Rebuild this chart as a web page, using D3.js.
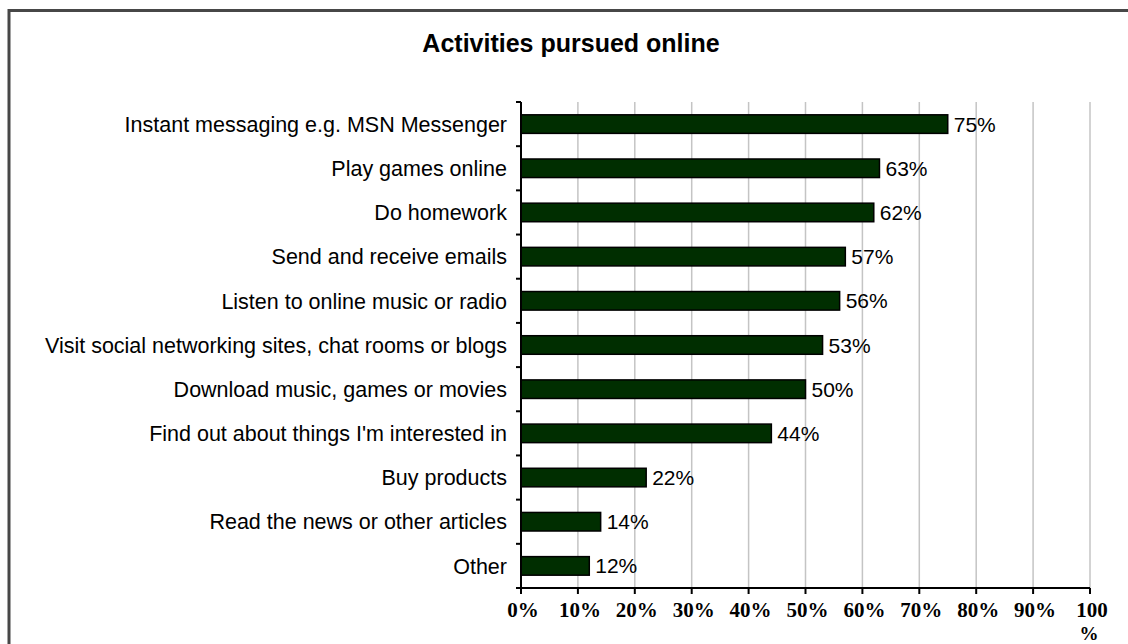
<!DOCTYPE html>
<html><head><meta charset="utf-8">
<script src="https://cdn.jsdelivr.net/npm/d3@7"></script>
<style>body{margin:0;background:#fff}</style>
</head><body>
<script>
const categories = ["Instant messaging e.g. MSN Messenger","Play games online","Do homework","Send and receive emails","Listen to online music or radio","Visit social networking sites, chat rooms or blogs","Download music, games or movies","Find out about things I'm interested in","Buy products","Read the news or other articles","Other"];
const values = [75,63,62,57,56,53,50,44,22,14,12];
const xTicks = [0,10,20,30,40,50,60,70,80,90,100];
const title = "Activities pursued online";

const W=1128,H=644;
const svg=d3.select("body").append("svg").attr("width",W).attr("height",H);
svg.append("rect").attr("x",9).attr("y",10.5).attr("width",1300).attr("height",900).attr("fill","#fff").attr("stroke","#474747").attr("stroke-width",3);

const m={left:521,right:1090,top:102,bottom:588};
const x=d3.scaleLinear().domain([0,100]).range([m.left,m.right]);
const y=d3.scaleBand().domain(categories).range([m.top,m.bottom]).paddingInner(0.58).paddingOuter(0.29);

svg.append("text").attr("x",571).attr("y",52).attr("text-anchor","middle").attr("font-family","Liberation Sans, Arial").attr("font-weight","bold").attr("font-size",25).text(title);

// gridlines
svg.append("g").selectAll("line").data(xTicks.slice(1)).join("line")
 .attr("x1",d=>x(d)).attr("x2",d=>x(d)).attr("y1",m.top).attr("y2",m.bottom).attr("stroke","#c4c4c4").attr("stroke-width",1.5);

svg.append("g").selectAll("rect").data(values).join("rect")
 .attr("x",x(0)).attr("y",(d,i)=>y(categories[i])).attr("width",d=>x(d)-x(0)).attr("height",y.bandwidth())
 .attr("fill","#002e00").attr("stroke","#000").attr("stroke-width",1.5);

svg.append("g").selectAll("text").data(values).join("text")
 .attr("x",d=>x(d)+6).attr("y",(d,i)=>y(categories[i])+y.bandwidth()/2).attr("dy","0.36em")
 .attr("font-family","Liberation Sans, Arial").attr("font-size",21).text(d=>d+"%");

svg.append("g").selectAll("text").data(categories).join("text")
 .attr("x",m.left-14).attr("y",d=>y(d)+y.bandwidth()/2).attr("dy","0.36em").attr("text-anchor","end")
 .attr("font-family","Liberation Sans, Arial").attr("font-size",21.5).text(d=>d);

// axes
const step=(m.bottom-m.top)/categories.length;
const ax=svg.append("g").attr("stroke","#000").attr("stroke-width",2);
ax.append("line").attr("x1",m.left).attr("x2",m.left).attr("y1",m.top).attr("y2",m.bottom);
ax.append("line").attr("x1",m.left).attr("x2",m.right).attr("y1",m.bottom).attr("y2",m.bottom);
ax.selectAll(".yt").data(d3.range(categories.length+1)).join("line").attr("class","yt")
 .attr("x1",m.left-5).attr("x2",m.left).attr("y1",i=>m.top+i*step).attr("y2",i=>m.top+i*step);
ax.selectAll(".xt").data(xTicks).join("line").attr("class","xt")
 .attr("x1",d=>x(d)).attr("x2",d=>x(d)).attr("y1",m.bottom).attr("y2",m.bottom+6);

svg.append("g").selectAll("text").data(xTicks).join("text")
 .attr("x",d=>x(d)+2).attr("y",617).attr("text-anchor","middle")
 .attr("font-family","Liberation Serif, Times New Roman").attr("font-weight","bold").attr("font-size",21)
 .text(d=>d===100?"100":d+"%");
svg.append("text").attr("x",x(100)-1).attr("y",640).attr("text-anchor","middle")
 .attr("font-family","Liberation Serif").attr("font-weight","bold").attr("font-size",19).text("%");
</script>
</body></html>
